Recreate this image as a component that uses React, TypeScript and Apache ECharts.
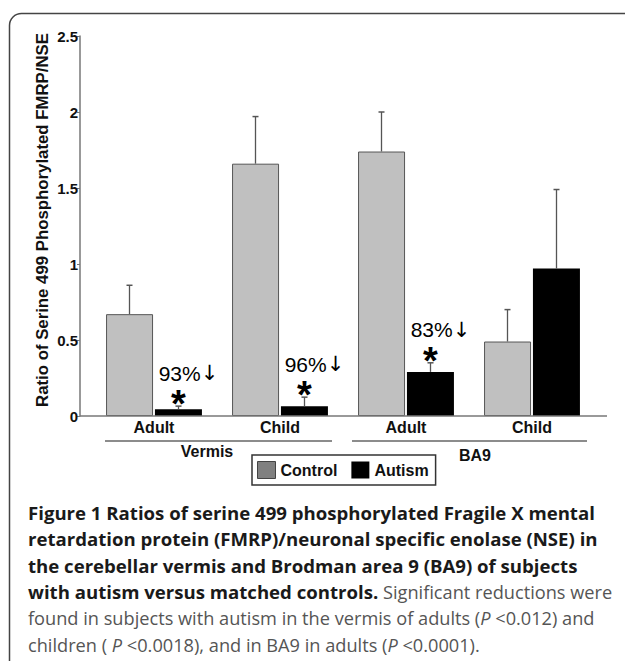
import React, { useEffect, useRef } from 'react';
import * as echarts from 'echarts';

const categories = ['Vermis Adult', 'Vermis Child', 'BA9 Adult', 'BA9 Child'];
const ageLabels = ['Adult', 'Child', 'Adult', 'Child'];
const regionLabels = ['Vermis', 'BA9'];
const controlMeans = [0.67, 1.66, 1.74, 0.49];
const controlSE = [0.19, 0.31, 0.26, 0.21];
const autismMeans = [0.045, 0.064, 0.29, 0.97];
const autismSE = [0.02, 0.06, 0.06, 0.52];
const reductions = ['93%', '96%', '83%', ''];
const yMin = 0;
const yMax = 2.5;
const yInterval = 0.5;

const yTitle = 'Ratio of Serine 499 Phosphorylated FMRP/NSE';
const captionLines = [
  '{b|Figure 1 Ratios of serine 499 phosphorylated Fragile X mental}',
  '{b|retardation protein (FMRP)/neuronal specific enolase (NSE) in}',
  '{b|the cerebellar vermis and Brodman area 9 (BA9) of subjects}',
  '{b|with autism versus matched controls.}{r| Significant reductions were}',
  '{r|found in subjects with autism in the vermis of adults (}{i|P}{r| <0.012) and}',
  '{r|children ( }{i|P}{r| <0.0018), and in BA9 in adults (}{i|P}{r| <0.0001).}',
];

const ARIAL = '"Liberation Sans", Arial, sans-serif';
const CAPFONT = '"Open Sans", "Noto Sans", sans-serif';
const CAPBOLD = 18.6;
const CAPREG = 18.2;

export default function App() {
  const ref = useRef<HTMLDivElement>(null);
  useEffect(() => {
    const chart = echarts.init(ref.current!, null, { renderer: 'svg' });

    const errSeries = (name: string, means: number[], errs: number[], offset: number, notes?: string[]) => ({
      type: 'custom',
      name: name + ' SE',
      silent: true,
      z: 5,
      data: means.map((m, i) => [i, m, m + errs[i]]),
      encode: { x: 0, y: [1, 2] },
      renderItem: (params: any, api: any) => {
        const i = api.value(0);
        const top = api.coord([i, api.value(1)]);
        const hi = api.coord([i, api.value(2)]);
        const x = top[0] + offset;
        const children: any[] = [
          { type: 'line', shape: { x1: x, y1: top[1], x2: x, y2: hi[1] }, style: { stroke: '#555', lineWidth: 1.3 } },
          { type: 'line', shape: { x1: x - 3, y1: hi[1], x2: x + 3, y2: hi[1] }, style: { stroke: '#555', lineWidth: 1.5 } },
        ];
        const note = notes ? notes[params.dataIndex] : '';
        if (note) {
          children.push({
            type: 'text',
            x: x,
            y: hi[1] - 2,
            style: { text: '*', font: 'bold 38px ' + ARIAL, fill: '#000', align: 'center', verticalAlign: 'middle' },
          });
          children.push({
            type: 'text',
            x: x + 10,
            y: hi[1] - 33,
            style: {
              text: '{n|' + note + '}{a|↓}',
              align: 'center',
              verticalAlign: 'middle',
              rich: {
                n: { fontFamily: ARIAL, fontSize: 21, fill: '#000' },
                a: { fontFamily: '"DejaVu Sans", sans-serif', fontSize: 21, fill: '#000' },
              },
            },
          });
        }
        return { type: 'group', children };
      },
    });

    const graphics: any[] = [
      {
        type: 'rect',
        shape: { x: 9.5, y: 13.5, width: 800, height: 800, r: 12 },
        style: { fill: 'none', stroke: '#444', lineWidth: 1.5 },
        z: 0,
      },
      {
        type: 'line',
        shape: { x1: 80, y1: 416, x2: 607, y2: 416 },
        style: { stroke: '#777', lineWidth: 1.5 },
        z: 10,
      },
      {
        type: 'line',
        shape: { x1: 105, y1: 441, x2: 332, y2: 441 },
        style: { stroke: '#666', lineWidth: 1.5 },
      },
      {
        type: 'line',
        shape: { x1: 352, y1: 441, x2: 587, y2: 441 },
        style: { stroke: '#666', lineWidth: 1.5 },
      },
      {
        type: 'text',
        x: 207,
        y: 451,
        style: { text: regionLabels[0], font: 'bold 16px ' + ARIAL, fill: '#111', align: 'center', verticalAlign: 'middle' },
      },
      {
        type: 'text',
        x: 475,
        y: 455,
        style: { text: regionLabels[1], font: 'bold 16px ' + ARIAL, fill: '#111', align: 'center', verticalAlign: 'middle' },
      },
      {
        type: 'text',
        x: 42,
        y: 220,
        rotation: Math.PI / 2,
        style: { text: yTitle, font: 'bold 16.8px ' + ARIAL, fill: '#111', align: 'center', verticalAlign: 'middle' },
      },
    ];
    captionLines.forEach((line, k) => {
      graphics.push({
        type: 'text',
        x: 28,
        y: 512 + k * 26.5,
        style: {
          text: line,
          align: 'left',
          verticalAlign: 'middle',
          rich: {
            b: { fontFamily: CAPFONT, fontSize: CAPBOLD, fontWeight: 'bold', fill: '#1a1a1a' },
            r: { fontFamily: CAPFONT, fontSize: CAPREG, fontWeight: 'normal', fill: '#555' },
            i: { fontFamily: CAPFONT, fontSize: CAPREG, fontWeight: 'normal', fontStyle: 'italic', fill: '#555' },
          },
        },
      });
    });

    chart.setOption({
      animation: false,
      backgroundColor: '#fff',
      grid: { left: 91, right: 30, top: 36, bottom: 245 },
      legend: {
        left: 252,
        top: 455,
        padding: [6, 7, 6, 5],
        itemGap: 14,
        itemWidth: 18,
        itemHeight: 17,
        borderColor: '#333',
        borderWidth: 1.5,
        selectedMode: false,
        textStyle: { fontFamily: ARIAL, fontWeight: 'bold', fontSize: 16, color: '#111' },
        data: [
          { name: 'Control', icon: 'rect', itemStyle: { color: '#808080', borderColor: '#444', borderWidth: 1 } },
          { name: 'Autism', icon: 'rect', itemStyle: { color: '#000', borderColor: '#000', borderWidth: 0 } },
        ],
      },
      xAxis: {
        type: 'category',
        data: categories,
        axisLine: { show: false },
        axisTick: { show: false },
        axisLabel: {
          formatter: (_v: string, i: number) => ageLabels[i],
          fontFamily: ARIAL,
          fontWeight: 'bold',
          fontSize: 16,
          color: '#111',
          margin: 3,
        },
      },
      yAxis: {
        type: 'value',
        min: yMin,
        max: yMax,
        interval: yInterval,
        offset: 11,
        splitLine: { show: false },
        axisLine: { show: true, lineStyle: { color: '#777', width: 1.5 } },
        axisTick: { show: true, length: 3, lineStyle: { color: '#777' } },
        axisLabel: { fontFamily: ARIAL, fontWeight: 'bold', fontSize: 15, color: '#111', margin: 2 },
      },
      series: [
        {
          name: 'Control',
          type: 'bar',
          data: controlMeans,
          barWidth: 47,
          barGap: '4%',
          itemStyle: { color: '#c0c0c0', borderColor: '#555', borderWidth: 1 },
        },
        {
          name: 'Autism',
          type: 'bar',
          data: autismMeans,
          barWidth: 47,
          barGap: '4%',
          itemStyle: { color: '#000' },
        },
        errSeries('Control', controlMeans, controlSE, -24.5),
        errSeries('Autism', autismMeans, autismSE, 24.5, reductions),
      ],
      graphic: graphics,
    });
    return () => chart.dispose();
  }, []);
  return (
    <div
      ref={ref}
      style={{ position: 'fixed', left: 0, top: 0, width: 625, height: 661, background: '#fff' }}
    />
  );
}
